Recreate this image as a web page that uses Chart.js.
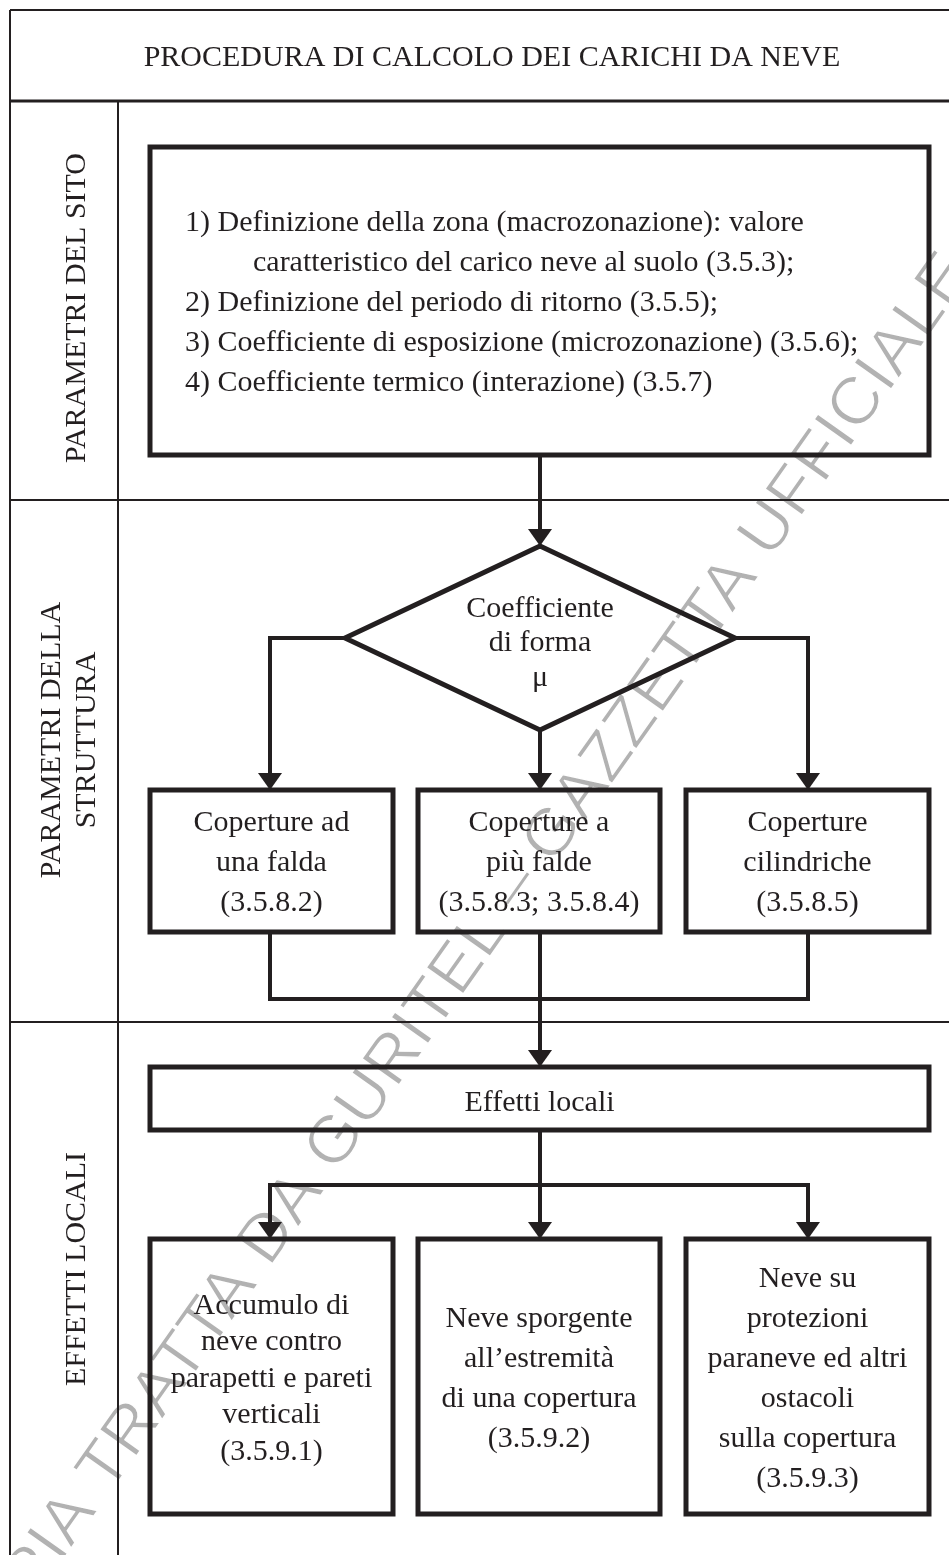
<!DOCTYPE html>
<html>
<head>
<meta charset="utf-8">
<title>Procedura di calcolo dei carichi da neve</title>
<script src="https://cdn.jsdelivr.net/npm/chart.js@4.4.1/dist/chart.umd.min.js"></script>
<style>
  html, body { margin: 0; padding: 0; background: #fff; }
  canvas { display: block; }
</style>
</head>
<body>
<canvas id="flow" width="949" height="1555"></canvas>
<script>
/* =====================
   Carichi da neve – flowchart
   ===================== */

// ── TEXT CONTENT ──────────────────────────────────────────
const TITLE = 'PROCEDURA DI CALCOLO DEI CARICHI DA NEVE';
const laneLabels = [
  ['PARAMETRI DEL SITO'],
  ['PARAMETRI DELLA', 'STRUTTURA'],
  ['EFFETTI LOCALI']
];
const siteLines = [
  '1) Definizione della zona (macrozonazione): valore',
  'caratteristico del carico neve al suolo (3.5.3);',
  '2) Definizione del periodo di ritorno (3.5.5);',
  '3) Coefficiente di esposizione (microzonazione) (3.5.6);',
  '4) Coefficiente termico (interazione) (3.5.7)'
];
const siteIndent = [false, true, false, false, false];
const diamondLines = ['Coefficiente', 'di forma', 'μ'];
const roofLabels = [
  ['Coperture ad', 'una falda', '(3.5.8.2)'],
  ['Coperture a', 'più falde', '(3.5.8.3; 3.5.8.4)'],
  ['Coperture', 'cilindriche', '(3.5.8.5)']
];
const localTitle = 'Effetti locali';
const localLabels = [
  ['Accumulo di', 'neve contro', 'parapetti e pareti', 'verticali', '(3.5.9.1)'],
  ['Neve sporgente', 'all’estremità', 'di una copertura', '(3.5.9.2)'],
  ['Neve su', 'protezioni', 'paraneve ed altri', 'ostacoli', 'sulla copertura', '(3.5.9.3)']
];
const WATERMARK = 'COPIA TRATTA DA GURITEL – GAZZETTA UFFICIALE';

// ── LAYOUT (in scale units) ───────────────────────────────
const W = 949, H = 1555;
const frameLeft = 10, laneRight = 118;
const rowLines = [10, 101, 500, 1022];
const colLeft  = [150, 418, 686];
const colRight = [393, 660, 929];
const colMid   = [270, 540, 808];

const siteBox   = { x0: 150, x1: 929, y0: 147, y1: 455 };
const diamond   = { cx: 540, cy: 638, hw: 195, hh: 92 };
const roofRow   = { y0: 790, y1: 932 };
const localBox  = { x0: 150, x1: 929, y0: 1067, y1: 1130 };
const localRow  = { y0: 1239, y1: 1514 };
const mergeY = 999, splitY = 1185;

const INK = '#231f20';
const SERIF = '"Liberation Serif", "Times New Roman", serif';
const ARROW_LEN = 17, ARROW_W = 24;

// ── GEOMETRY → DATASETS ───────────────────────────────────
const datasets = [];
const arrows = [];

function addLine(points, width, cap) {
  datasets.push({
    data: points.map(([x, y]) => ({ x, y })),
    showLine: true,
    borderColor: INK,
    borderWidth: width,
    borderCapStyle: cap || 'butt',
    borderJoinStyle: 'miter',
    pointRadius: 0,
    pointHoverRadius: 0,
    fill: false,
    tension: 0
  });
}

function addBox(x0, y0, x1, y1) {
  addLine([[x0, y0], [x1, y0], [x1, y1], [x0, y1], [x0, y0], [x1, y0]], 5);
}

// connector ending in an arrowhead: line stops where the head starts
function addArrow(points) {
  const pts = points.map(p => p.slice());
  const n = pts.length;
  const [ax, ay] = pts[n - 2], [bx, by] = pts[n - 1];
  const len = Math.hypot(bx - ax, by - ay);
  arrows.push({ tip: [bx, by], dir: [(bx - ax) / len, (by - ay) / len] });
  pts[n - 1] = [bx - (bx - ax) / len * (ARROW_LEN - 2), by - (by - ay) / len * (ARROW_LEN - 2)];
  addLine(pts, 4);
}

// frame
addLine([[frameLeft, rowLines[0]], [W, rowLines[0]]], 2);
addLine([[frameLeft, rowLines[0]], [frameLeft, H]], 2);
addLine([[frameLeft, rowLines[1]], [W, rowLines[1]]], 3);
addLine([[laneRight, rowLines[1]], [laneRight, H]], 2);
addLine([[frameLeft, rowLines[2]], [W, rowLines[2]]], 2);
addLine([[frameLeft, rowLines[3]], [W, rowLines[3]]], 2);

// boxes
addBox(siteBox.x0, siteBox.y0, siteBox.x1, siteBox.y1);
const dTop = [diamond.cx, diamond.cy - diamond.hh], dBot = [diamond.cx, diamond.cy + diamond.hh];
const dLeft = [diamond.cx - diamond.hw, diamond.cy], dRight = [diamond.cx + diamond.hw, diamond.cy];
addLine([dTop, dRight, dBot, dLeft, dTop, dRight], 5);
colLeft.forEach((x0, i) => addBox(x0, roofRow.y0, colRight[i], roofRow.y1));
addBox(localBox.x0, localBox.y0, localBox.x1, localBox.y1);
colLeft.forEach((x0, i) => addBox(x0, localRow.y0, colRight[i], localRow.y1));

// connectors
addArrow([[diamond.cx, siteBox.y1], dTop]);
addArrow([dLeft, [colMid[0], diamond.cy], [colMid[0], roofRow.y0]]);
addArrow([dBot, [colMid[1], roofRow.y0]]);
addArrow([dRight, [colMid[2], diamond.cy], [colMid[2], roofRow.y0]]);
addLine([[colMid[0], roofRow.y1], [colMid[0], mergeY], [colMid[2], mergeY], [colMid[2], roofRow.y1]], 4);
addArrow([[colMid[1], roofRow.y1], [colMid[1], localBox.y0]]);
addArrow([[colMid[1], localBox.y1], [colMid[1], localRow.y0]]);
addArrow([[colMid[1], splitY], [colMid[0], splitY], [colMid[0], localRow.y0]]);
addArrow([[colMid[1], splitY], [colMid[2], splitY], [colMid[2], localRow.y0]]);

// ── PLUGINS ───────────────────────────────────────────────
function px(chart, x, y) {
  return [chart.scales.x.getPixelForValue(x), chart.scales.y.getPixelForValue(y)];
}

const watermarkPlugin = {
  id: 'watermark',
  beforeDatasetsDraw(chart) {
    const ctx = chart.ctx;
    // baseline runs from the "I" of COPIA up to the end of UFFICIALE
    const [sx, sy] = px(chart, 60, 1564);
    const [ex, ey] = px(chart, 974, 272);
    ctx.save();
    ctx.font = '400 66px "Liberation Sans", Arial, sans-serif';
    ctx.fillStyle = '#b2b2b2';
    ctx.strokeStyle = '#ffffff';
    ctx.lineWidth = 1.3;
    ctx.lineJoin = 'round';
    ctx.textBaseline = 'alphabetic';
    const pre = WATERMARK.slice(0, 3);
    const rest = WATERMARK.slice(3);
    const k = Math.hypot(ex - sx, ey - sy) / ctx.measureText(rest).width;
    ctx.translate(sx, sy);
    ctx.rotate(Math.atan2(ey - sy, ex - sx));
    ctx.scale(k, 1);
    const x0 = -ctx.measureText(pre).width;
    ctx.fillText(WATERMARK, x0, 0);
    // thin the strokes so the mark reads as a light line lettering
    ctx.strokeText(WATERMARK, x0, 0);
    ctx.restore();
  }
};

const textPlugin = {
  id: 'flowText',
  afterDatasetsDraw(chart) {
    const ctx = chart.ctx;
    ctx.save();
    ctx.fillStyle = INK;

    // arrowheads
    arrows.forEach(a => {
      const [tx, ty] = px(chart, a.tip[0], a.tip[1]);
      const [dx, dy] = a.dir;
      const bx = tx - dx * ARROW_LEN, by = ty - dy * ARROW_LEN;
      ctx.beginPath();
      ctx.moveTo(tx, ty);
      ctx.lineTo(bx - dy * ARROW_W / 2, by + dx * ARROW_W / 2);
      ctx.lineTo(bx + dy * ARROW_W / 2, by - dx * ARROW_W / 2);
      ctx.closePath();
      ctx.fill();
    });

    ctx.font = '30px ' + SERIF;
    ctx.textBaseline = 'alphabetic';
    const CAP = 20;

    function block(lines, cx, cy, lineH) {
      ctx.textAlign = 'center';
      const first = cy - (lines.length - 1) * lineH / 2 + CAP / 2;
      lines.forEach((t, i) => {
        const [x, y] = px(chart, cx, first + i * lineH);
        ctx.fillText(t, x, y);
      });
    }

    // title
    block([TITLE], 492, (rowLines[0] + rowLines[1]) / 2, 0);

    // lane labels, rotated
    const laneSpots = [
      { x: [85], cy: 308 },
      { x: [60, 95], cy: 740 },
      { x: [85], cy: 1269 }
    ];
    laneLabels.forEach((lines, i) => {
      lines.forEach((t, j) => {
        const [x, y] = px(chart, laneSpots[i].x[j], laneSpots[i].cy);
        ctx.save();
        ctx.translate(x, y);
        ctx.rotate(-Math.PI / 2);
        ctx.textAlign = 'center';
        ctx.fillText(t, 0, 0);
        ctx.restore();
      });
    });

    // site parameters
    ctx.textAlign = 'left';
    const siteLineH = 40;
    const siteFirst = (siteBox.y0 + siteBox.y1) / 2 - (siteLines.length - 1) * siteLineH / 2 + CAP / 2;
    siteLines.forEach((t, i) => {
      const [x, y] = px(chart, siteIndent[i] ? 253 : 185, siteFirst + i * siteLineH);
      ctx.fillText(t, x, y);
    });

    // diamond
    block(diamondLines, diamond.cx, diamond.cy + 3, 34.5);

    // roof types
    roofLabels.forEach((lines, i) => {
      block(lines, (colLeft[i] + colRight[i]) / 2, (roofRow.y0 + roofRow.y1) / 2, 40);
    });

    // local effects
    block([localTitle], (localBox.x0 + localBox.x1) / 2, (localBox.y0 + localBox.y1) / 2 + 2, 0);
    const localLineH = [36.5, 40, 40];
    localLabels.forEach((lines, i) => {
      block(lines, (colLeft[i] + colRight[i]) / 2, (localRow.y0 + localRow.y1) / 2, localLineH[i]);
    });

    ctx.restore();
  }
};

// ── CHART ─────────────────────────────────────────────────
new Chart(document.getElementById('flow'), {
  type: 'scatter',
  data: { datasets },
  options: {
    responsive: false,
    animation: false,
    events: [],
    layout: { padding: 0 },
    plugins: { legend: { display: false }, tooltip: { enabled: false } },
    scales: {
      x: { type: 'linear', min: 0, max: W, display: false },
      y: { type: 'linear', min: 0, max: H, reverse: true, display: false }
    }
  },
  plugins: [watermarkPlugin, textPlugin]
});
</script>
</body>
</html>
